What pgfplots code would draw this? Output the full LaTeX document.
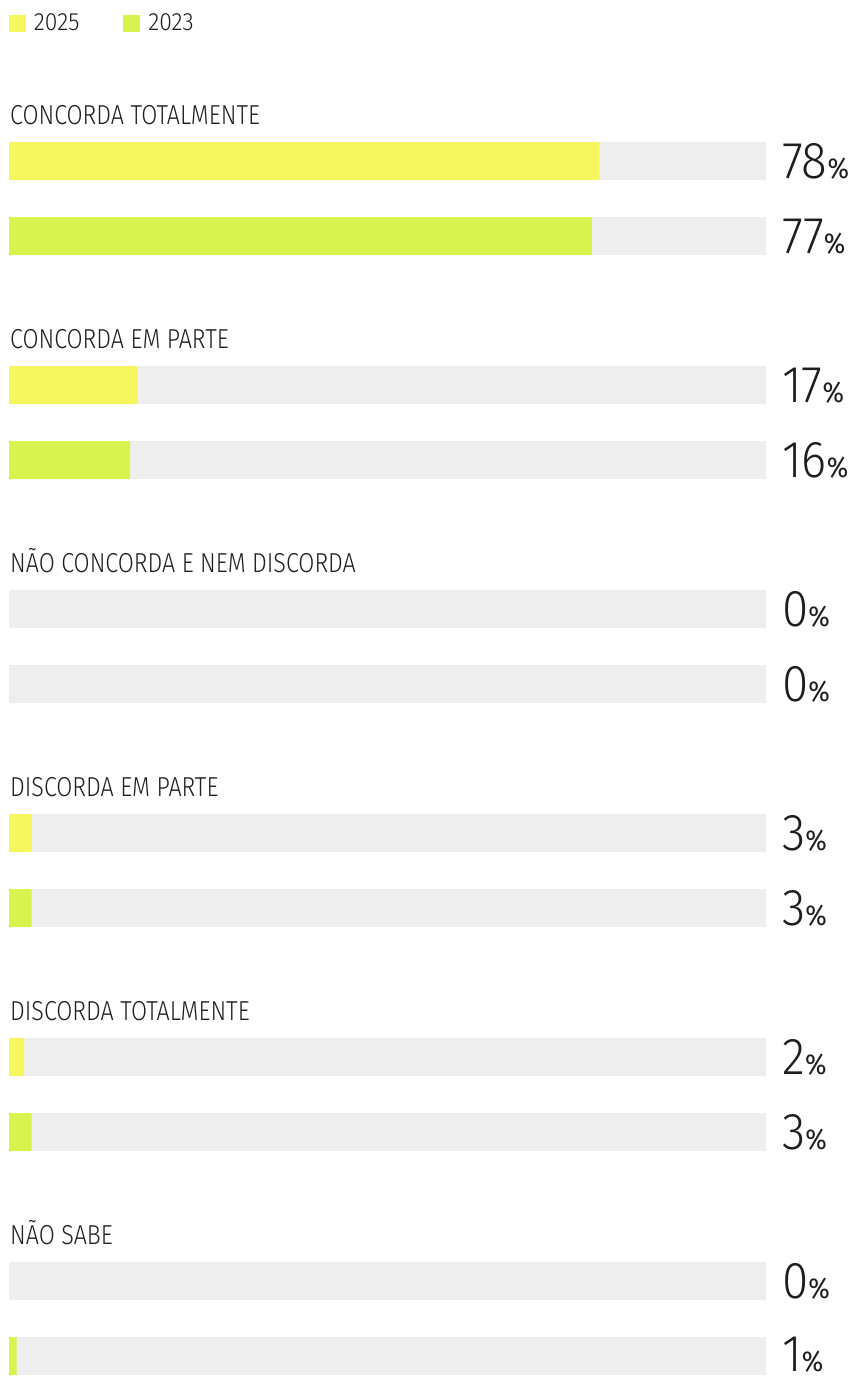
\documentclass[border=0pt]{standalone}
\usepackage{pgfplots}
\usepackage{pgfplotstable}
\pgfplotsset{compat=1.18}
\usepackage{fontspec}
\setmainfont{Fira Sans}[UprightFont=* Light, FakeStretch=0.85]
\newfontfamily\numfont{Fira Sans}[UprightFont=* Light, FakeStretch=0.92]
\newfontfamily\pctfont{Fira Sans}[FakeStretch=0.9]
\definecolor{cA}{HTML}{F6F75E}
\definecolor{cB}{HTML}{D8F24E}
\definecolor{bgg}{HTML}{EEEEEE}
\definecolor{txt}{HTML}{1E1E1E}
\newcommand\val[1]{{\numfont\fontsize{52}{52}\selectfont #1}{\pctfont\fontsize{29}{29}\selectfont\%}}
\newcommand\lab{\fontsize{27.5}{30}\selectfont}
\pgfplotstableread{
y v t
161 78 100
385 17 100
609 0 100
833 3 100
1057 2 100
1281 0 100
}\dataA
\pgfplotstableread{
y v t
236 77 100
460 16 100
684 0 100
908 3 100
1132 3 100
1356 1 100
}\dataB
\begin{document}
\begin{tikzpicture}
\begin{axis}[
  width=854bp, height=1377bp, scale only axis,
  xmin=-1.18891, xmax=111.6248, ymin=0, ymax=1377, y dir=reverse,
  axis lines=none, ticks=none, clip=false,
  xbar, bar width=38bp, bar shift=0pt,
  legend columns=2,
  legend image code/.code={\fill[#1] (0bp,-8.5bp) rectangle (17bp,8.5bp);},
  legend style={at={(axis cs:0,14)}, anchor=north west, draw=none, fill=none,
    inner sep=0pt, outer sep=0pt, text=txt,
    nodes={inner sep=0pt},
    font=\numfont\fontsize{25}{25}\selectfont,
    /tikz/every odd column/.append style={column sep=8bp},
    /tikz/every even column/.append style={column sep=44bp}},
]
\addplot[forget plot, fill=bgg, draw=none] table[x=t, y=y] \dataA;
\addplot[forget plot, fill=bgg, draw=none] table[x=t, y=y] \dataB;
\addplot[fill=cA, draw=none] table[x=v, y=y] \dataA;
\addlegendentry{2025}
\addplot[fill=cB, draw=none] table[x=v, y=y] \dataB;
\addlegendentry{2023}

\begin{scope}[every node/.style={anchor=base west, inner sep=0pt, text depth=0pt, text=txt}]
\node at (axis cs:0.13,124) {\lab CONCORDA TOTALMENTE};
\node at (axis cs:0.13,348) {\lab CONCORDA EM PARTE};
\node at (axis cs:0.13,572) {\lab NÃO CONCORDA E NEM DISCORDA};
\node at (axis cs:0.13,796) {\lab DISCORDA EM PARTE};
\node at (axis cs:0.13,1020) {\lab DISCORDA TOTALMENTE};
\node at (axis cs:0.13,1244) {\lab NÃO SABE};

\node at (axis cs:102.11,178) {\val{78}};
\node at (axis cs:102.11,253) {\val{77}};
\node at (axis cs:102.11,402) {\val{17}};
\node at (axis cs:102.11,477) {\val{16}};
\node at (axis cs:102.11,626) {\val{0}};
\node at (axis cs:102.11,701) {\val{0}};
\node at (axis cs:102.11,850) {\val{3}};
\node at (axis cs:102.11,925) {\val{3}};
\node at (axis cs:102.11,1074) {\val{2}};
\node at (axis cs:102.11,1149) {\val{3}};
\node at (axis cs:102.11,1298) {\val{0}};
\node at (axis cs:102.11,1371) {\val{1}};
\end{scope}
\end{axis}
\pgfresetboundingbox
\path (current axis.south west) rectangle (current axis.north east);
\end{tikzpicture}
\end{document}
